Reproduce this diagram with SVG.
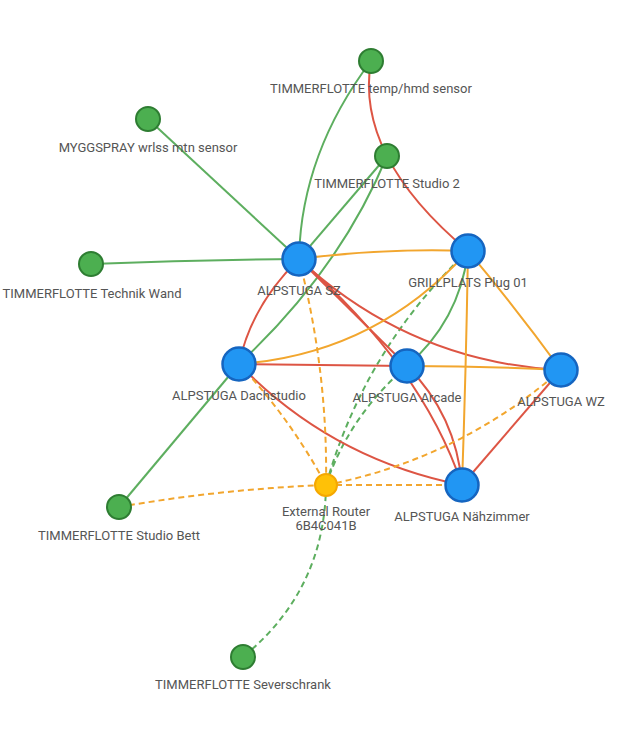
<svg xmlns="http://www.w3.org/2000/svg" width="634" height="751" viewBox="0 0 634 751">
<style>
.e{fill:none;stroke-width:2}
.g{stroke:#5DAE5F}
.r{stroke:#DD5544}
.o{stroke:#F2A62E}
.d{stroke-dasharray:6 4}
.ng{fill:#4CAF50;stroke:#2E7D32;stroke-width:2}
.nb{fill:#2196F3;stroke:#1565C0;stroke-width:2.5}
.ny{fill:#FFC107;stroke:#F5A800;stroke-width:2}
text{font-family:Roboto,"Liberation Sans",sans-serif;font-size:13px;fill:#555;text-anchor:middle}
</style>
<rect width="634" height="751" fill="#fff"/>
<g id="edges">
<path class="e g" d="M148,119 L299,259"/>
<path class="e g" d="M91,264 Q195,260 299,259"/>
<path class="e g" d="M371,61 Q301,154 299,259"/>
<path class="e g" d="M387,156 L299,259"/>
<path class="e g" d="M387,156 Q340,270 239,364"/>
<path class="e g" d="M239,364 L119,507"/>
<path class="e g" d="M468,251 Q460,320 407,366"/>
<path class="e g d" d="M468,251 Q365,348 326,485"/>
<path class="e g d" d="M407,366 Q349,416 326,485"/>
<path class="e g d" d="M326,485 Q325,590 243,657"/>
<path class="e r" d="M371,61 Q354.5,156 468,251"/>
<path class="e r" d="M299,259 Q251,306 239,364"/>
<path class="e r" d="M299,259 L407,366"/>
<path class="e r" d="M299,259 Q422,366 462,485"/>
<path class="e r" d="M407,366 Q456,415 462,485"/>
<path class="e r" d="M299,259 Q410,362 561,370"/>
<path class="e r" d="M239,364 L407,366"/>
<path class="e r" d="M239,364 Q331,459 462,485"/>
<path class="e r" d="M561,370 L462,485"/>
<path class="e o" d="M299,259 Q384,248 468,251"/>
<path class="e o" d="M239,364 Q376,354 468,251"/>
<path class="e o" d="M468,251 Q516,308 561,370"/>
<path class="e o" d="M468,251 Q466,370 462,485"/>
<path class="e o" d="M407,366 Q484,366 561,370"/>
<path class="e o d" d="M299,259 Q328,372 326,485"/>
<path class="e o d" d="M239,364 Q290,418 326,485"/>
<path class="e o d" d="M119,507 Q222,489 326,485"/>
<path class="e o d" d="M326,485 L462,485"/>
<path class="e o d" d="M326,485 Q459,459 561,370"/>
</g>
<g id="n-temp"><circle class="ng" cx="371" cy="61" r="12"/><text x="371" y="93">TIMMERFLOTTE temp/hmd sensor</text></g>
<g id="n-studio2"><circle class="ng" cx="387" cy="156" r="12"/><text x="387" y="188">TIMMERFLOTTE Studio 2</text></g>
<g id="n-myggspray"><circle class="ng" cx="148" cy="119" r="12"/><text x="148" y="152">MYGGSPRAY wrlss mtn sensor</text></g>
<g id="n-technik"><circle class="ng" cx="91" cy="264" r="12"/><text x="92" y="298">TIMMERFLOTTE Technik Wand</text></g>
<g id="n-sz"><circle class="nb" cx="299" cy="259" r="16.5"/><text x="299" y="295">ALPSTUGA SZ</text></g>
<g id="n-grill"><circle class="nb" cx="468" cy="251" r="16.5"/><text x="468" y="287">GRILLPLATS Plug 01</text></g>
<g id="n-dach"><circle class="nb" cx="239" cy="364" r="16.5"/><text x="239" y="400">ALPSTUGA Dachstudio</text></g>
<g id="n-arcade"><circle class="nb" cx="407" cy="366" r="16.5"/><text x="407" y="402">ALPSTUGA Arcade</text></g>
<g id="n-wz"><circle class="nb" cx="561" cy="370" r="16.5"/><text x="561" y="406">ALPSTUGA WZ</text></g>
<g id="n-naeh"><circle class="nb" cx="462" cy="485" r="16.5"/><text x="462" y="521">ALPSTUGA Nähzimmer</text></g>
<g id="n-router"><circle class="ny" cx="326" cy="485" r="11"/><text x="326" y="516">External Router</text><text x="326" y="530">6B4C041B</text></g>
<g id="n-bett"><circle class="ng" cx="119" cy="507" r="12"/><text x="119" y="540">TIMMERFLOTTE Studio Bett</text></g>
<g id="n-sever"><circle class="ng" cx="243" cy="657" r="12"/><text x="243" y="689">TIMMERFLOTTE Severschrank</text></g>
</svg>
